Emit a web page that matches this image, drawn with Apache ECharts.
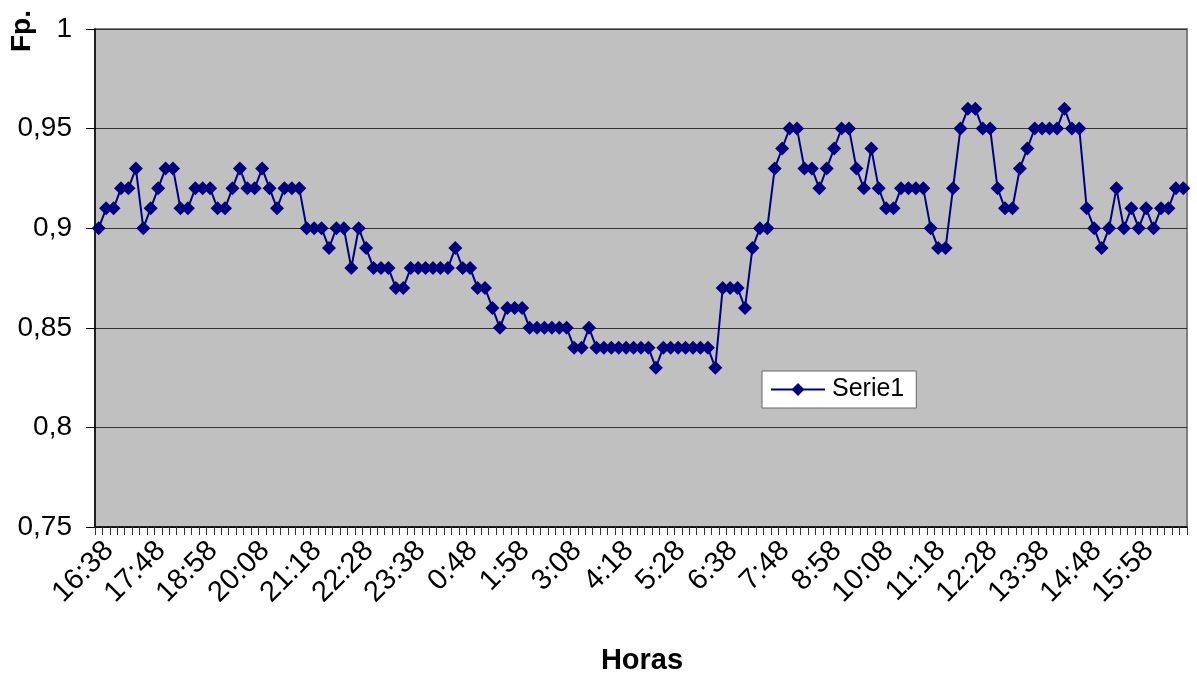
<!DOCTYPE html>
<html>
<head>
<meta charset="utf-8">
<script src="https://cdn.jsdelivr.net/npm/echarts@6/dist/echarts.min.js"></script>
<style>
html,body{margin:0;padding:0;background:#fff;}
#chart{width:1197px;height:676px;}
</style>
</head>
<body>
<div id="chart"></div>
<script>
const categories = [
"16:38","16:48","16:58","17:08","17:18","17:28","17:38","17:48","17:58","18:08","18:18","18:28","18:38","18:48",
"18:58","19:08","19:18","19:28","19:38","19:48","19:58","20:08","20:18","20:28","20:38","20:48","20:58","21:08",
"21:18","21:28","21:38","21:48","21:58","22:08","22:18","22:28","22:38","22:48","22:58","23:08","23:18","23:28",
"23:38","23:48","23:58","0:08","0:18","0:28","0:38","0:48","0:58","1:08","1:18","1:28","1:38","1:48",
"1:58","2:08","2:18","2:28","2:38","2:48","2:58","3:08","3:18","3:28","3:38","3:48","3:58","4:08",
"4:18","4:28","4:38","4:48","4:58","5:08","5:18","5:28","5:38","5:48","5:58","6:08","6:18","6:28",
"6:38","6:48","6:58","7:08","7:18","7:28","7:38","7:48","7:58","8:08","8:18","8:28","8:38","8:48",
"8:58","9:08","9:18","9:28","9:38","9:48","9:58","10:08","10:18","10:28","10:38","10:48","10:58","11:08",
"11:18","11:28","11:38","11:48","11:58","12:08","12:18","12:28","12:38","12:48","12:58","13:08","13:18","13:28",
"13:38","13:48","13:58","14:08","14:18","14:28","14:38","14:48","14:58","15:08","15:18","15:28","15:38","15:48",
"15:58","16:08","16:18","16:28","16:38","16:48","16:58"
];

const serie1 = [
0.90,0.91,0.91,0.92,0.92,0.93,0.90,0.91,0.92,0.93,0.93,0.91,0.91,0.92,
0.92,0.92,0.91,0.91,0.92,0.93,0.92,0.92,0.93,0.92,0.91,0.92,0.92,0.92,
0.90,0.90,0.90,0.89,0.90,0.90,0.88,0.90,0.89,0.88,0.88,0.88,0.87,0.87,
0.88,0.88,0.88,0.88,0.88,0.88,0.89,0.88,0.88,0.87,0.87,0.86,0.85,0.86,
0.86,0.86,0.85,0.85,0.85,0.85,0.85,0.85,0.84,0.84,0.85,0.84,0.84,0.84,
0.84,0.84,0.84,0.84,0.84,0.83,0.84,0.84,0.84,0.84,0.84,0.84,0.84,0.83,
0.87,0.87,0.87,0.86,0.89,0.90,0.90,0.93,0.94,0.95,0.95,0.93,0.93,0.92,
0.93,0.94,0.95,0.95,0.93,0.92,0.94,0.92,0.91,0.91,0.92,0.92,0.92,0.92,
0.90,0.89,0.89,0.92,0.95,0.96,0.96,0.95,0.95,0.92,0.91,0.91,0.93,0.94,
0.95,0.95,0.95,0.95,0.96,0.95,0.95,0.91,0.90,0.89,0.90,0.92,0.90,0.91,
0.90,0.91,0.90,0.91,0.91,0.92,0.92
];

const yTicks = { min: 0.75, max: 1, interval: 0.05 };
const seriesName = "Serie1";
const xTitle = "Horas";
const yTitle = "Fp.";

const font = "'Liberation Sans', Arial, sans-serif";
const chart = echarts.init(document.getElementById('chart'), null, {renderer: 'canvas'});

chart.setOption({
  animation: false,
  backgroundColor: '#ffffff',
  grid: {
    left: 95, top: 29, right: 10, bottom: 149,
    show: true, backgroundColor: '#c0c0c0', borderColor: '#808080', borderWidth: 2
  },
  legend: {
    left: 762, top: 371,
    backgroundColor: '#ffffff', borderColor: '#666666', borderWidth: 1,
    padding: [6, 12, 6, 8],
    itemWidth: 54, itemHeight: 16,
    itemGap: 4,
    textStyle: { fontFamily: font, fontSize: 25, color: '#000', padding: [0, 0, 0, 2] },
    data: [seriesName]
  },
  graphic: [
    { type: 'text', x: 642, y: 661,
      style: { text: xTitle, fontFamily: font, fontSize: 29, fontWeight: 'bold', fill: '#000',
               textAlign: 'center', textVerticalAlign: 'middle' } },
    { type: 'text', x: 22, y: 31, rotation: Math.PI / 2,
      style: { text: yTitle, fontFamily: font, fontSize: 28, fontWeight: 'bold', fill: '#000',
               textAlign: 'center', textVerticalAlign: 'middle' } }
  ],
  xAxis: {
    type: 'category',
    data: categories,
    boundaryGap: true,
    axisLine: { show: true, lineStyle: { color: '#000', width: 1.5 } },
    axisTick: { show: true, interval: 0, length: 8, lineStyle: { color: '#333', width: 1 } },
    axisLabel: {
      interval: 6, rotate: 45, margin: 9, verticalAlign: 'top',
      fontFamily: font, fontSize: 29, color: '#000'
    },
    splitLine: { show: false }
  },
  yAxis: {
    type: 'value',
    min: yTicks.min, max: yTicks.max, interval: yTicks.interval,
    axisLine: { show: true, lineStyle: { color: '#000', width: 1.5 } },
    axisTick: { show: true, length: 9, lineStyle: { color: '#000', width: 1 } },
    axisLabel: {
      margin: 23, fontFamily: font, fontSize: 28, color: '#000',
      formatter: v => String(+v.toFixed(2)).replace('.', ',')
    },
    splitLine: { show: true, lineStyle: { color: '#333333', width: 1 } }
  },
  series: [{
    name: seriesName,
    type: 'line',
    data: serie1,
    symbol: 'diamond',
    symbolSize: 14,
    showAllSymbol: true,
    lineStyle: { color: '#000080', width: 2 },
    itemStyle: { color: '#000080', borderWidth: 0 }
  }]
});
</script>
</body>
</html>
